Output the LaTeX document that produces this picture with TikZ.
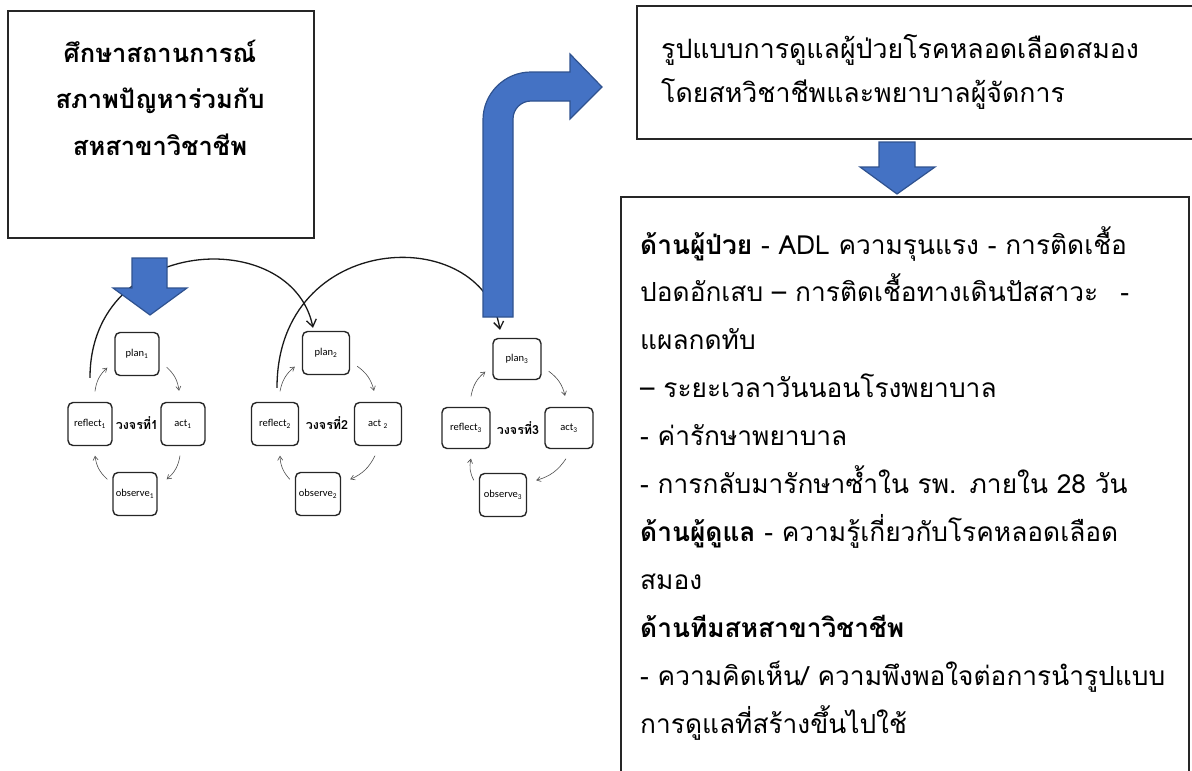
\documentclass[tikz,border=0pt]{standalone}
\usepackage{fontspec}
\newfontfamily\thai[Script=Thai]{Loma}
\newfontfamily\carl{Carlito}
\usetikzlibrary{arrows.meta}
\definecolor{arrowblue}{HTML}{4472C4}
\definecolor{arrowborder}{HTML}{2F528F}
\begin{document}
\begin{tikzpicture}[x=1pt,y=-1pt,
  frame/.style={draw=black!85, line width=1.5pt},
  blockarrow/.style={fill=arrowblue, draw=arrowborder, line width=1.2pt, line join=miter},
  cbox/.style={draw=black!85, line width=1.4pt, rounded corners=5pt, minimum width=44pt, minimum height=43pt, inner sep=1pt, font=\carl\fontsize{10.5}{12}\selectfont},
  cyc/.style={draw=black!70, line width=0.6pt, -{Straight Barb[length=4pt,width=5pt]}, bend left=20},
  bigarc/.style={draw=black!90, line width=1.3pt, -{Straight Barb[length=7pt,width=10pt]}},
  lbl/.style={font=\thai\bfseries\fontsize{12.5}{15}\selectfont, inner sep=0pt},
  bodytext/.style={inner sep=0pt, align=left, text width=560pt, font=\thai\fontsize{26.3}{47.9}\selectfont},
]
\useasboundingbox (0,0) rectangle (1192,771);
\clip (0,0) rectangle (1192,771);

% ---- top-left box ----
\node[frame, minimum width=306pt, minimum height=227pt, anchor=north west, inner sep=0pt] (study) at (7,10) {};
\node[inner sep=0pt, align=center, text width=300pt, anchor=base, font=\thai\bfseries\fontsize{25.5}{46.5}\selectfont] (studytext) at (160,62)
  {ศึกษาสถานการณ์\\สภาพปัญหาร่วมกับ\\สหสาขาวิชาชีพ};

% ---- top-right box ----
\node[frame, minimum width=570pt, minimum height=133pt, anchor=north west, inner sep=0pt] (model) at (636,5) {};
\node[bodytext, anchor=base west, font=\thai\fontsize{26.7}{44}\selectfont] (modeltext) at (661,58)
  {รูปแบบการดูแลผู้ป่วยโรคหลอดเลือดสมอง\\โดยสหวิชาชีพและพยาบาลผู้จัดการ};

% ---- big result box ----
\node[frame, minimum width=568pt, minimum height=600pt, anchor=north west, inner sep=0pt] (result) at (620,196) {};
\node[bodytext, anchor=base west] (resulttext) at (640,254)
  {{\bfseries ด้านผู้ป่วย} - ADL ความรุนแรง - การติดเชื้อ\\
   ปอดอักเสบ – การติดเชื้อทางเดินปัสสาวะ\hspace{22pt}-\\
   แผลกดทับ\\
   – ระยะเวลาวันนอนโรงพยาบาล\\
   - ค่ารักษาพยาบาล\\
   - การกลับมารักษาซ้ำใน รพ. ภายใน 28 วัน\\
   {\bfseries ด้านผู้ดูแล} - ความรู้เกี่ยวกับโรคหลอดเลือด\\
   สมอง\\
   {\bfseries ด้านทีมสหสาขาวิชาชีพ}\\
   - ความคิดเห็น/ ความพึงพอใจต่อการนำรูปแบบ\\
   การดูแลที่สร้างขึ้นไปใช้};

% ---- cycle 1 ----
\node[cbox] (p1) at (137,354) {plan\textsubscript{1}};
\node[cbox] (a1) at (183,424) {act\textsubscript{1}};
\node[cbox] (r1) at (90,424) {reflect\textsubscript{1}};
\node[cbox] (o1) at (135,494) {observe\textsubscript{1}};
\node[lbl] (l1) at (137,423) {วงจรที่1};
% ---- cycle 2 ----
\node[cbox, minimum width=47pt] (p2) at (326,353) {plan\textsubscript{2}};
\node[cbox, minimum width=47pt] (a2) at (378,424) {act \textsubscript{2}};
\node[cbox, minimum width=47pt] (r2) at (275,424) {reflect\textsubscript{2}};
\node[cbox, minimum width=45pt] (o2) at (318,494) {observe\textsubscript{2}};
\node[lbl] (l2) at (327,423) {วงจรที่2};
% ---- cycle 3 ----
\node[cbox, minimum width=48pt, minimum height=41pt] (p3) at (517,359) {plan\textsubscript{3}};
\node[cbox, minimum width=48pt, minimum height=41pt] (a3) at (569,428) {act\textsubscript{3}};
\node[cbox, minimum width=48pt, minimum height=41pt] (r3) at (466,428) {reflect\textsubscript{3}};
\node[cbox, minimum width=47pt] (o3) at (503,495) {observe\textsubscript{3}};
\node[lbl] (l3) at (518,428) {วงจรที่3};

% cycle arrows
\foreach \i in {1,2,3}{
  \draw[cyc] ([shift={(7,-9)}]p\i.south east) to ([shift={(-4,-11)}]a\i.north);
  \draw[cyc] ([shift={(-3,9.5)}]a\i.south) to ([shift={(9,7.5)}]o\i.north east);
  \draw[cyc] ([shift={(-5,7.5)}]o\i.north west) to ([shift={(5,9.5)}]r\i.south);
  \draw[cyc] ([shift={(5,-10.5)}]r\i.north) to ([shift={(-7,-8.5)}]p\i.south west);
}

% big arcs between cycles
\draw[bigarc] ([shift={(0,-24)}]r1.north) .. controls (90,235) and (292,225) .. ([shift={(-13,-3)}]p2.north);
\draw[bigarc] ([shift={(2,-14)}]r2.north) .. controls (277,230) and (482,222) .. ([shift={(-17,-8)}]p3.north);

% ---- block arrows ----
\draw[blockarrow] (132,258) -- (167,258) -- (167,288) -- (187,288) -- (150,315) -- (113,288) -- (132,288) -- cycle;
\draw[blockarrow] (879,142) -- (915,142) -- (915,167) -- (935,167) -- (897,194) -- (860,167) -- (879,167) -- cycle;
\draw[blockarrow] (483,317) -- (483,120) arc[start angle=180, end angle=90, radius=48pt]
  -- (570,72) -- (570,54) -- (602,87) -- (570,119) -- (570,101) -- (531,101)
  arc[start angle=90, end angle=180, radius=18pt] -- (513,317) -- cycle;
\end{tikzpicture}
\end{document}
